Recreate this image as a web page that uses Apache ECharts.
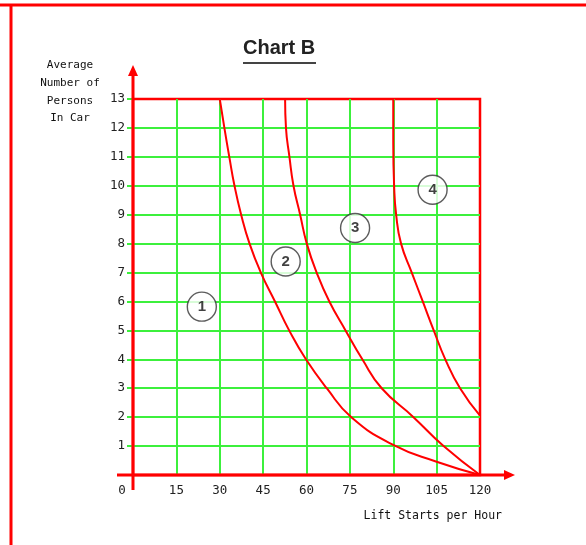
<!DOCTYPE html>
<html>
<head>
<meta charset="utf-8">
<script src="https://cdn.jsdelivr.net/npm/echarts@6/dist/echarts.min.js"></script>
<style>
  html, body { margin: 0; padding: 0; background: #fff; }
  #main { width: 586px; height: 545px; }
</style>
</head>
<body>
<div id="main"></div>
<script>
// axis ticks
const xTicks = [0, 15, 30, 45, 60, 75, 90, 105, 120];
const yMax = 13;

// curves: [lift starts per hour, persons in car]
const curve1 = [[30, 13], [31.6, 12], [33.3, 11], [35.1, 10], [37.4, 9], [40.3, 8], [44.2, 7],
  [49.1, 6], [54, 5], [59.8, 4], [67, 3], [75.5, 2], [90, 1.04], [105, 0.46], [120, 0]];
const curve2 = [[52.6, 13], [52.9, 12], [54.1, 11], [55.5, 10], [57.8, 9], [60.1, 8], [63.5, 7],
  [67.9, 6], [73.5, 5], [79.3, 4], [86, 3], [97, 2], [107.4, 1], [120, 0]];
const curve3 = [[90, 13], [90, 11.5], [90.3, 10], [91, 9], [92.7, 8], [96.4, 7],
  [100.2, 6], [104, 5], [108, 4], [113.1, 3], [120, 2.05]];

// circled zone numbers
const zoneX = [23.8, 52.8, 76.8, 103.6];
const zoneY = [5.82, 7.38, 8.54, 9.86];
const zoneText = ['1', '2', '3', '4'];

const RED = '#ff0000';
const GREEN = '#3cf03c';
const MONO = 'DejaVu Sans Mono';

function curveSeries(data) {
  return {
    type: 'line',
    data: data,
    smooth: 0.5,
    showSymbol: false,
    symbol: 'none',
    lineStyle: { color: RED, width: 2 },
    z: 3,
    silent: true
  };
}

let myChart = echarts.init(document.getElementById('main'));
let option = {
  animation: false,
  title: {
    text: 'Chart B',
    left: 243,
    top: 38,
    padding: 0,
    textStyle: { fontFamily: 'Liberation Sans', fontWeight: 'bold', fontSize: 20, color: '#222' }
  },
  grid: {
    left: 133, top: 99, right: 106, bottom: 70,
    outerBoundsMode: 'none',
    containLabel: false,
    show: true,
    borderColor: RED,
    borderWidth: 2.5
  },
  xAxis: {
    type: 'value',
    min: xTicks[0],
    max: xTicks[xTicks.length - 1],
    interval: 15,
    name: 'Lift Starts per Hour',
    nameLocation: 'end',
    nameGap: 22,
    nameMoveOverlap: false,
    nameTextStyle: {
      fontFamily: MONO, fontSize: 11.5, color: '#111',
      align: 'right', verticalAlign: 'top', lineHeight: 14, padding: [34, 0, 0, 0]
    },
    axisLine: { show: false },
    axisTick: { show: false },
    axisLabel: {
      margin: 9,
      fontFamily: MONO, fontSize: 12.5, color: '#222',
      formatter: function (v) { return v === 0 ? '{z|0}' : String(v); },
      rich: { z: { fontFamily: MONO, fontSize: 12.5, color: '#222', padding: [0, 22, 0, 0] } }
    },
    splitLine: { show: true, showMinLine: false, showMaxLine: false, lineStyle: { color: GREEN, width: 2 } }
  },
  yAxis: {
    type: 'value',
    min: 0,
    max: yMax,
    interval: 1,
    name: 'Average\nNumber of\nPersons\nIn Car',
    nameLocation: 'end',
    nameGap: 7,
    nameMoveOverlap: false,
    nameTextStyle: {
      fontFamily: MONO, fontSize: 11, color: '#111', lineHeight: 17.7,
      align: 'center', verticalAlign: 'middle', padding: [0, 126, 0, 0]
    },
    axisLine: { show: false },
    axisTick: { show: true, length: 6, lineStyle: { color: GREEN, width: 2 } },
    axisLabel: {
      margin: 8,
      fontFamily: MONO, fontSize: 12.5, color: '#222',
      formatter: function (v) { return v === 0 ? '' : String(v); }
    },
    splitLine: { show: true, showMinLine: false, showMaxLine: false, lineStyle: { color: GREEN, width: 2 } }
  },
  series: [
    curveSeries(curve1),
    curveSeries(curve2),
    curveSeries(curve3),
    {
      type: 'scatter',
      data: zoneX.map((x, i) => ({ value: [x, zoneY[i]], name: zoneText[i] })),
      symbol: 'circle',
      symbolSize: 29,
      itemStyle: { color: '#fff', borderColor: '#333', borderWidth: 1.4 },
      label: {
        show: true,
        position: 'inside',
        formatter: '{b}',
        fontFamily: 'Liberation Sans',
        fontWeight: 'bold',
        fontSize: 15,
        color: '#111'
      },
      z: 4,
      silent: true
    }
  ]
};
myChart.setOption(option);

// axes with arrows reaching past the plot, page frame and title underline
const o = myChart.convertToPixel({ gridIndex: 0 }, [0, 0]);
const tr = myChart.convertToPixel({ gridIndex: 0 }, [120, yMax]);
const xEnd = tr[0] + 35, yEnd = tr[1] - 34;
myChart.setOption({
  graphic: [
    { type: 'line', shape: { x1: 0, y1: 5, x2: 586, y2: 5 }, style: { stroke: RED, lineWidth: 3 } },
    { type: 'line', shape: { x1: 11, y1: 5, x2: 11, y2: 545 }, style: { stroke: RED, lineWidth: 3 } },
    { type: 'line', shape: { x1: 243, y1: 63, x2: 316, y2: 63 }, style: { stroke: '#444', lineWidth: 2 } },
    { type: 'line', z: 10, shape: { x1: o[0] - 16, y1: o[1], x2: xEnd - 8, y2: o[1] }, style: { stroke: RED, lineWidth: 3 } },
    { type: 'polygon', z: 10, shape: { points: [[xEnd, o[1]], [xEnd - 11, o[1] - 5], [xEnd - 11, o[1] + 5]] }, style: { fill: RED } },
    { type: 'line', z: 10, shape: { x1: o[0], y1: o[1] + 15, x2: o[0], y2: yEnd + 8 }, style: { stroke: RED, lineWidth: 3 } },
    { type: 'polygon', z: 10, shape: { points: [[o[0], yEnd], [o[0] - 5, yEnd + 11], [o[0] + 5, yEnd + 11]] }, style: { fill: RED } }
  ]
});
</script>
</body>
</html>
